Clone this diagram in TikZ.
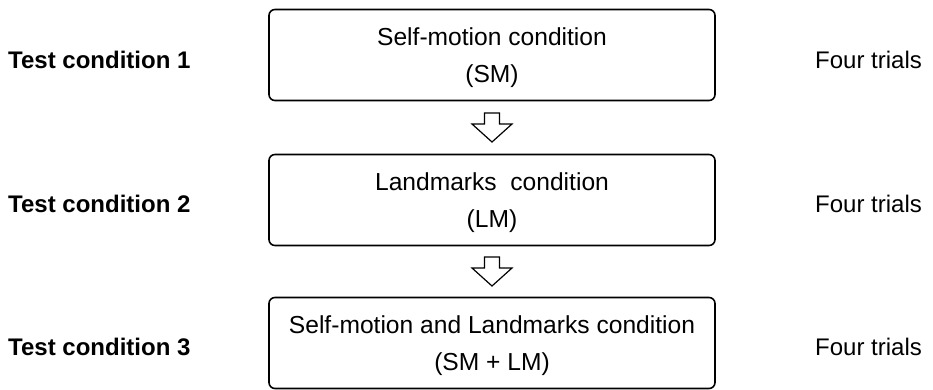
\documentclass[tikz,border=0pt]{standalone}
\usepackage{fontspec}
\setmainfont{Liberation Sans}
\usetikzlibrary{calc}
\newcommand{\topstrut}{\rule{0pt}{22.5pt}}
\begin{document}
\begin{tikzpicture}[x=1pt,y=-1pt,
  condbox/.style={draw, line width=1.6pt, rounded corners=6pt, minimum width=446pt, minimum height=91pt, inner sep=0pt, align=center, font=\fontsize{24.6}{37}\selectfont},
  leftlab/.style={anchor=west, inner sep=0pt, font=\fontsize{24}{28}\selectfont\bfseries},
  rightlab/.style={anchor=west, inner sep=0pt, font=\fontsize{24}{28}\selectfont},
  hollowarrow/.style={draw, line width=1.2pt, fill=white, line join=miter}
]
\useasboundingbox (0,0) rectangle (933,389);
\node[condbox] (b1) at (492,55) {\topstrut Self-motion condition\\(SM)};
\node[condbox] (b2) at (492,200) {\topstrut Landmarks\ \ condition\\(LM)};
\node[condbox] (b3) at (492,343) {\topstrut Self-motion and Landmarks condition\\(SM + LM)};
\node[leftlab] (l1) at (8,60) {Test condition 1};
\node[leftlab] (l2) at (8,204) {Test condition 2};
\node[leftlab] (l3) at (8,347) {Test condition 3};
\node[rightlab] (r1) at (815,60) {Four trials};
\node[rightlab] (r2) at (815,204) {Four trials};
\node[rightlab] (r3) at (815,347) {Four trials};
\coordinate (m1) at ($(b1.south)!0.5!(b2.north)$);
\coordinate (m2) at ($(b2.south)!0.5!(b3.north)$);
\foreach \m in {m1,m2}{
  \draw[hollowarrow] ($(\m)+(-7.5,-14.5)$) -- ($(\m)+(7.5,-14.5)$) -- ($(\m)+(7.5,-3.5)$) -- ($(\m)+(20,-3.5)$) -- ($(\m)+(0,14.5)$) -- ($(\m)+(-20,-3.5)$) -- ($(\m)+(-7.5,-3.5)$) -- cycle;
}
\end{tikzpicture}
\end{document}
